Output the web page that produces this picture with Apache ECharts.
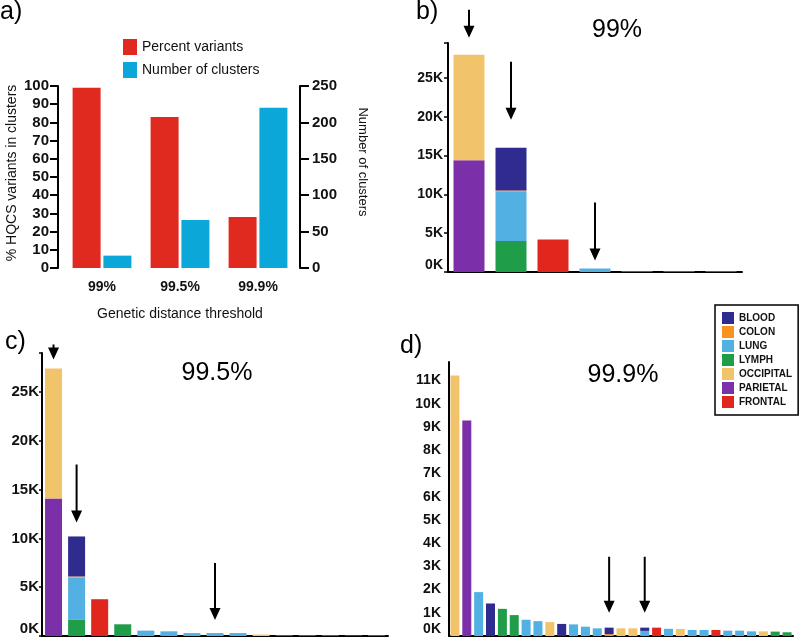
<!DOCTYPE html>
<html><head><meta charset="utf-8">
<script src="https://cdn.jsdelivr.net/npm/echarts@6/dist/echarts.min.js"></script>
<style>html,body{margin:0;padding:0;background:#fff}#c{width:800px;height:640px}</style>
</head><body><div id="c"></div>
<script>
// ---------- data ----------
const thresholds = ['99%', '99.5%', '99.9%'];
const percentVariants = [99, 83, 28];
const clusterCounts = [17, 66, 220];

const tissues = ['BLOOD', 'COLON', 'LUNG', 'LYMPH', 'OCCIPITAL', 'PARIETAL', 'FRONTAL'];

// panel b (99%) – 7 clusters
const bClusters = ['1', '2', '3', '4', '5', '6', '7'];
const b_BLOOD     = [0, 5500, 0, 0, 0, 0, 0];
const b_COLON     = [0, 100, 0, 0, 0, 0, 0];
const b_LUNG      = [0, 6400, 0, 450, 80, 80, 80];
const b_LYMPH     = [0, 4000, 0, 0, 0, 0, 0];
const b_OCCIPITAL = [13600, 0, 0, 0, 0, 0, 0];
const b_PARIETAL  = [14400, 0, 0, 0, 0, 0, 0];
const b_FRONTAL   = [0, 0, 4200, 0, 0, 0, 0];
const bArrowClusters = [0, 1, 3];

// panel c (99.5%) – 15 clusters
const cClusters = ['1','2','3','4','5','6','7','8','9','10','11','12','13','14','15'];
const c_BLOOD     = [0, 4100, 0, 0, 0, 0, 0, 0, 0, 0, 0, 0, 0, 0, 0];
const c_COLON     = [0, 100, 0, 0, 0, 0, 0, 0, 0, 0, 0, 0, 0, 0, 0];
const c_LUNG      = [0, 4300, 0, 0, 550, 480, 300, 300, 300, 0, 60, 60, 60, 0, 60];
const c_LYMPH     = [0, 1700, 0, 1200, 0, 0, 0, 0, 0, 0, 0, 0, 0, 60, 0];
const c_OCCIPITAL = [13300, 0, 0, 0, 0, 0, 0, 0, 0, 150, 0, 0, 0, 0, 0];
const c_PARIETAL  = [14100, 0, 0, 0, 0, 0, 0, 0, 0, 0, 0, 0, 0, 0, 0];
const c_FRONTAL   = [0, 0, 3770, 0, 0, 0, 0, 0, 0, 0, 0, 0, 0, 0, 0];
const cArrowClusters = [0, 1, 7];

// panel d (99.9%) – 29 clusters
const dClusters = ['1','2','3','4','5','6','7','8','9','10','11','12','13','14','15','16','17','18','19','20','21','22','23','24','25','26','27','28','29'];
const d_BLOOD     = [0,0,0,1400,0,0,0,0,0,520,0,0,0,280,0,0,140,0,0,0,0,0,0,0,0,0,0,0,0];
const d_COLON     = [0,0,0,0,0,0,0,0,0,0,0,0,0,80,0,0,0,0,0,0,0,0,0,0,0,0,0,0,0];
const d_LUNG      = [0,0,1890,0,0,0,700,640,0,0,500,400,330,0,0,0,220,0,310,0,260,260,0,230,230,200,0,0,0];
const d_LYMPH     = [0,0,0,0,1170,900,0,0,0,0,0,0,0,0,0,0,0,0,0,0,0,0,0,0,0,0,0,190,160];
const d_OCCIPITAL = [11220,0,0,0,0,0,0,0,600,0,0,0,0,0,330,330,0,0,0,300,0,0,0,0,0,0,200,0,0];
const d_PARIETAL  = [0,9280,0,0,0,0,0,0,0,0,0,0,0,0,0,0,0,0,0,0,0,0,0,0,0,0,0,0,0];
const d_FRONTAL   = [0,0,0,0,0,0,0,0,0,0,0,0,0,0,0,0,0,360,0,0,0,0,260,0,0,0,0,0,0];
const dArrowClusters = [13, 16];

// ---------- styling / build ----------
const FONT = 'Liberation Sans, Arial, sans-serif';
const tissueColor = {BLOOD:'#2f2b8f', COLON:'#f7931e', LUNG:'#52b0e2', LYMPH:'#1f9d48',
  OCCIPITAL:'#f1c46c', PARIETAL:'#7b2fa8', FRONTAL:'#e1271d'};
const stackOrder = ['PARIETAL', 'LYMPH', 'LUNG', 'COLON', 'BLOOD', 'OCCIPITAL', 'FRONTAL'];
const panels = {
  b: {BLOOD:b_BLOOD, COLON:b_COLON, LUNG:b_LUNG, LYMPH:b_LYMPH, OCCIPITAL:b_OCCIPITAL, PARIETAL:b_PARIETAL, FRONTAL:b_FRONTAL},
  c: {BLOOD:c_BLOOD, COLON:c_COLON, LUNG:c_LUNG, LYMPH:c_LYMPH, OCCIPITAL:c_OCCIPITAL, PARIETAL:c_PARIETAL, FRONTAL:c_FRONTAL},
  d: {BLOOD:d_BLOOD, COLON:d_COLON, LUNG:d_LUNG, LYMPH:d_LYMPH, OCCIPITAL:d_OCCIPITAL, PARIETAL:d_PARIETAL, FRONTAL:d_FRONTAL}
};

function arrowPath(len) {
  const h = len - 12;
  return 'path://M4.5,0 L6.5,0 L6.5,' + h + ' L11,' + h + ' L5.5,' + len + ' L0,' + h + ' L4.5,' + h + ' Z';
}
function total(data, i) { return stackOrder.reduce((s, t) => s + data[t][i], 0); }

function panelSeries(axisIdx, data, barWidth, arrowCats, arrowStyle) {
  return stackOrder.map((t, k) => {
    const s = {
      type: 'bar', name: t, xAxisIndex: axisIdx, yAxisIndex: axisIdx + 1, stack: 'st' + axisIdx,
      barWidth: barWidth, itemStyle: {color: tissueColor[t]}, data: data[t], silent: true
    };
    if (k === 0) {
      s.markPoint = {
        silent: true, label: {show: false}, itemStyle: {color: '#000'},
        data: arrowCats.map((c, j) => ({
          coord: [c, total(data, c)],
          symbol: arrowPath(arrowStyle[j].len),
          symbolSize: [11, arrowStyle[j].len],
          symbolKeepAspect: false,
          symbolOffset: [0, -(arrowStyle[j].gap + arrowStyle[j].len / 2)]
        }))
      };
    }
    return s;
  });
}

function kFmt(step) { return v => (v % step === 0 ? (v / 1000) + 'K' : ''); }
const axisLine = {show: true, lineStyle: {color: '#000', width: 2}};
const lbl = (size, margin) => ({color: '#111', fontSize: size, fontWeight: 'bold', fontFamily: FONT, margin: margin});

const option = {
  animation: false,
  backgroundColor: '#fff',
  textStyle: {fontFamily: FONT},
  grid: [
    {left: 63, top: 86, width: 234, height: 182, outerBoundsMode: 'none'},
    {left: 448, top: 43, width: 294, height: 229, outerBoundsMode: 'none'},
    {left: 42, top: 353, width: 346, height: 283, outerBoundsMode: 'none'},
    {left: 449, top: 362, width: 344, height: 274, outerBoundsMode: 'none'}
  ],
  xAxis: [
    {type: 'category', gridIndex: 0, data: thresholds, axisLine: {show: false}, axisTick: {show: false},
     axisLabel: {color: '#111', fontSize: 14, fontWeight: 'bold', fontFamily: FONT, margin: 12},
     name: 'Genetic distance threshold', nameLocation: 'middle', nameGap: 39,
     nameTextStyle: {color: '#111', fontSize: 14, fontFamily: FONT}},
    {type: 'category', gridIndex: 1, data: bClusters, axisLine: axisLine, axisTick: {show: false}, axisLabel: {show: false}},
    {type: 'category', gridIndex: 2, data: cClusters, axisLine: axisLine, axisTick: {show: false}, axisLabel: {show: false}},
    {type: 'category', gridIndex: 3, data: dClusters, axisLine: axisLine, axisTick: {show: false}, axisLabel: {show: false}}
  ],
  yAxis: [
    {type: 'value', gridIndex: 0, position: 'left', offset: 5, min: 0, max: 100, interval: 10,
     axisLine: axisLine, axisTick: {show: true, length: 8, lineStyle: {color: '#000', width: 2}},
     splitLine: {show: false}, axisLabel: lbl(15, 9)},
    {type: 'value', gridIndex: 0, position: 'right', offset: 3, min: 0, max: 250, interval: 50,
     axisLine: axisLine, axisTick: {show: true, length: 9, lineStyle: {color: '#000', width: 2}},
     splitLine: {show: false}, axisLabel: lbl(15, 12)},
    {type: 'value', gridIndex: 1, min: 0, max: 29500, interval: 5000, axisLine: axisLine,
     axisTick: {show: true, length: 4, lineStyle: {color: '#000', width: 1.5}},
     splitLine: {show: false},
     axisLabel: Object.assign(lbl(14, 5), {formatter: kFmt(5000), verticalAlignMinLabel: 'bottom'})},
    {type: 'value', gridIndex: 2, min: 0, max: 29000, interval: 5000, axisLine: axisLine,
     axisTick: {show: true, length: 3, lineStyle: {color: '#000', width: 1.5}},
     splitLine: {show: false},
     axisLabel: Object.assign(lbl(15, 3), {formatter: kFmt(5000), verticalAlignMinLabel: 'bottom'})},
    {type: 'value', gridIndex: 3, min: 0, max: 11800, interval: 1000, axisLine: axisLine,
     axisTick: {show: false},
     splitLine: {show: false},
     axisLabel: Object.assign(lbl(14, 8), {formatter: kFmt(1000), verticalAlignMinLabel: 'bottom'})}
  ],
  legend: [
    {data: ['Percent variants', 'Number of clusters'], left: 118, top: 34, orient: 'vertical',
     icon: 'rect', itemWidth: 14, itemHeight: 16, itemGap: 7, selectedMode: false,
     textStyle: {color: '#111', fontSize: 14, fontFamily: FONT}},
    {data: tissues, left: 715, top: 305, orient: 'vertical', icon: 'rect',
     itemWidth: 12, itemHeight: 12, itemGap: 2, selectedMode: false,
     borderColor: '#000', borderWidth: 1.5, padding: [7, 6, 7, 7],
     textStyle: {color: '#111', fontSize: 10, fontWeight: 'bold', fontFamily: FONT}}
  ],
  graphic: [
    {type: 'text', left: 0, top: 0, style: {text: 'a)', fontSize: 25, fill: '#000', fontFamily: FONT}},
    {type: 'text', left: 416, top: 0, style: {text: 'b)', fontSize: 25, fill: '#000', fontFamily: FONT}},
    {type: 'text', left: 5, top: 330, style: {text: 'c)', fontSize: 25, fill: '#000', fontFamily: FONT}},
    {type: 'text', left: 400, top: 334, style: {text: 'd)', fontSize: 25, fill: '#000', fontFamily: FONT}},
    {type: 'text', x: 617, y: 30, style: {text: '99%', fontSize: 25, fill: '#000', fontFamily: FONT, textAlign: 'center', textVerticalAlign: 'middle'}},
    {type: 'text', x: 217, y: 373, style: {text: '99.5%', fontSize: 25, fill: '#000', fontFamily: FONT, textAlign: 'center', textVerticalAlign: 'middle'}},
    {type: 'text', x: 623, y: 375, style: {text: '99.9%', fontSize: 25, fill: '#000', fontFamily: FONT, textAlign: 'center', textVerticalAlign: 'middle'}},
    {type: 'text', x: 12, y: 173, rotation: Math.PI / 2,
     style: {text: '% HQCS variants in clusters', fontSize: 14, fill: '#111', fontFamily: FONT, textAlign: 'center', textVerticalAlign: 'middle'}},
    {type: 'text', x: 363, y: 162, rotation: -Math.PI / 2,
     style: {text: 'Number of clusters', fontSize: 13, fill: '#111', fontFamily: FONT, textAlign: 'center', textVerticalAlign: 'middle'}}
  ],
  series: [
    {type: 'bar', name: 'Percent variants', xAxisIndex: 0, yAxisIndex: 0, data: percentVariants,
     barWidth: 28, barGap: '10%', itemStyle: {color: '#e0291f'}},
    {type: 'bar', name: 'Number of clusters', xAxisIndex: 0, yAxisIndex: 1, data: clusterCounts,
     barWidth: 28, barGap: '10%', itemStyle: {color: '#0ba7d9'}}
  ]
  .concat(panelSeries(1, panels.b, 31, bArrowClusters, [{gap: 17, len: 28}, {gap: 28, len: 58}, {gap: 8, len: 58}]))
  .concat(panelSeries(2, panels.c, 17, cArrowClusters, [{gap: 9, len: 15}, {gap: 14, len: 58}, {gap: 13, len: 57}]))
  .concat(panelSeries(3, panels.d, 9, dArrowClusters, [{gap: 15, len: 56}, {gap: 15, len: 56}]))
};

const chart = echarts.init(document.getElementById('c'), null, {renderer: 'canvas'});
chart.setOption(option);
</script></body></html>
